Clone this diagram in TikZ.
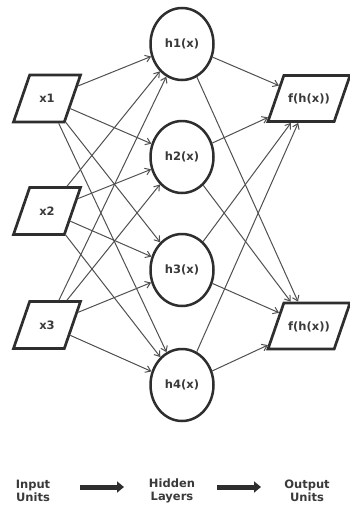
\documentclass[tikz,border=0pt]{standalone}
\usepackage{fontspec}
\setmainfont{DejaVu Sans}
\usetikzlibrary{shapes.geometric,arrows.meta}
\definecolor{ink}{HTML}{2E2E2E}
\definecolor{txt}{HTML}{3A3A3A}
\definecolor{wire}{HTML}{505050}
\tikzset{
  lbl/.style={font=\fontsize{11.5}{13.5}\selectfont\bfseries, text=txt},
  inbox/.style={lbl, shape=trapezium, trapezium left angle=71, trapezium right angle=109,
     trapezium stretches body, minimum width=67pt, text height=8pt, text depth=0pt,
     inner xsep=0pt, inner ysep=19.5pt,
     draw=ink, line width=2.7pt, fill=white},
  outbox/.style={inbox, minimum width=82pt, inner ysep=19pt},
  hid/.style={lbl, ellipse, minimum width=63pt, minimum height=72pt, inner sep=0pt,
     draw=ink, line width=2.5pt, fill=white},
  wirearrow/.style={draw=wire, line width=1pt, -{Straight Barb[length=5pt,width=7pt]}},
  bigarrow/.style={draw=ink, line width=5pt, -{Triangle[length=7pt,width=11pt]}},
  caption/.style={lbl, align=center, inner sep=0pt}
}
\begin{document}
\begin{tikzpicture}[x=1pt,y=-1pt]
\fill[white] (0,0) rectangle (350,509);
\useasboundingbox (0,0) rectangle (350,509);
% input units
\node[inbox] (x1) at (47,98.5) {x1};
\node[inbox] (x2) at (47,211) {x2};
\node[inbox] (x3) at (47,325) {x3};
% hidden layer
\node[hid] (h1) at (182,44) {h1(x)};
\node[hid] (h2) at (182,157) {h2(x)};
\node[hid] (h3) at (182,270) {h3(x)};
\node[hid] (h4) at (182,385) {h4(x)};
% output units
\node[outbox] (o1) at (309,98.5) {f(h(x))};
\node[outbox] (o2) at (309,326) {f(h(x))};
% connectors
\foreach \i in {x1,x2,x3}{
  \foreach \h in {h1,h2,h3,h4}{
    \draw[wirearrow] (\i) -- (\h);
  }
}
\foreach \h in {h1,h2,h3,h4}{
  \foreach \o in {o1,o2}{
    \draw[wirearrow] (\h) -- (\o);
  }
}
% bottom legend
\node[caption] (cin) at (33,491) {Input\\Units};
\node[caption] (chid) at (172,491) {Hidden\\Layers};
\node[caption] (cout) at (307,491) {Output\\Units};
\coordinate (a1s) at (80,487);
\coordinate (a1e) at (124,487);
\coordinate (a2s) at (217,487);
\coordinate (a2e) at (261,487);
\draw[bigarrow] (a1s) -- (a1e);
\draw[bigarrow] (a2s) -- (a2e);
\end{tikzpicture}
\end{document}
